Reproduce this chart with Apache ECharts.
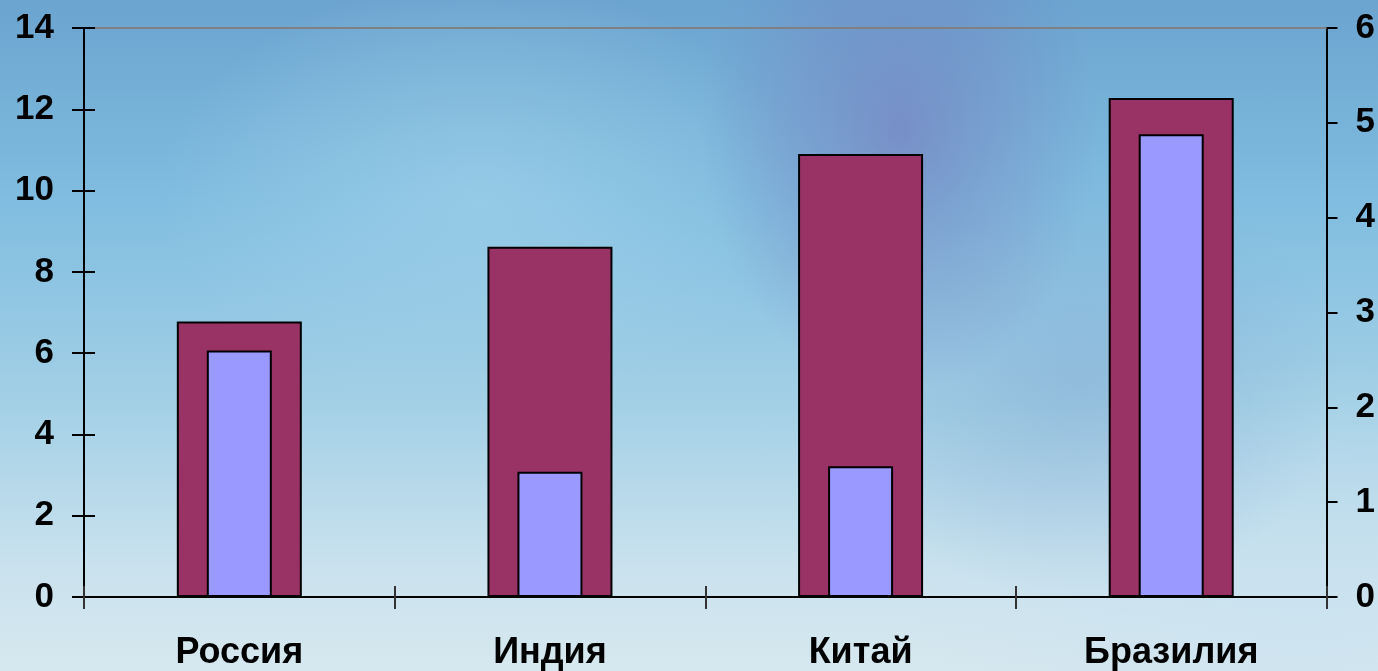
<!DOCTYPE html>
<html>
<head>
<meta charset="utf-8">
<style>
  html, body { margin: 0; padding: 0; }
  body {
    width: 1378px; height: 671px; overflow: hidden;
    background:
      radial-gradient(ellipse 200px 260px at 900px 130px, rgba(118,128,190,0.7), rgba(118,128,190,0) 100%),
      radial-gradient(ellipse 320px 220px at 480px 200px, rgba(165,212,235,0.6), rgba(165,212,235,0) 100%),
      radial-gradient(ellipse 260px 220px at 1080px 380px, rgba(130,170,210,0.5), rgba(130,170,210,0) 100%),
      radial-gradient(ellipse 380px 260px at 1300px 620px, rgba(200,225,240,0.55), rgba(200,225,240,0) 100%),
      linear-gradient(to bottom, #6ba4cf 0%, #80bde0 30%, #a3d0e6 60%, #cae2ee 85%, #d6e8ef 100%);
  }
  #chart { width: 1378px; height: 671px; }
</style>
<script src="https://cdn.jsdelivr.net/npm/echarts@6/dist/echarts.min.js"></script>
</head>
<body>
<div id="chart"></div>
<script>
const categories = ["Россия", "Индия", "Китай", "Бразилия"];
const leftValues = [6.78, 8.62, 10.9, 12.28];
const rightValues = [2.6, 1.32, 1.38, 4.88];
const leftTicks = { min: 0, max: 14, interval: 2 };
const rightTicks = { min: 0, max: 6, interval: 1 };

const chart = echarts.init(document.getElementById("chart"), null, { renderer: "canvas" });

const labelFont = {
  fontFamily: "Liberation Sans, Arial, sans-serif",
  fontWeight: "bold",
  color: "#000",
};

chart.setOption({
  backgroundColor: "transparent",
  animation: false,
  grid: { left: 84, right: 51, top: 28, bottom: 73 },
  xAxis: [
    {
      type: "category",
      data: categories,
      position: "bottom",
      axisLine: { onZero: false, lineStyle: { color: "#000", width: 2 } },
      axisTick: { show: true, length: 12, lineStyle: { color: "#333", width: 2 } },
      axisLabel: { ...labelFont, fontSize: 36, margin: 38 },
    },
    {
      type: "category",
      data: categories,
      position: "top",
      axisLine: { onZero: false, lineStyle: { color: "#808080", width: 2 } },
      axisTick: { show: false },
      axisLabel: { show: false },
    },
    {
      type: "category",
      data: categories,
      position: "bottom",
      axisLine: { show: false, onZero: false },
      axisTick: { show: true, inside: true, length: 11, lineStyle: { color: "#333", width: 2 } },
      axisLabel: { show: false },
    },
  ],
  yAxis: [
    {
      type: "value",
      position: "left",
      ...leftTicks,
      axisLine: { show: true, onZero: false, lineStyle: { color: "#000", width: 2 } },
      axisTick: { show: true, length: 12, lineStyle: { color: "#000", width: 2 } },
      axisLabel: { ...labelFont, fontSize: 35, margin: 30 },
      splitLine: { show: false },
    },
    {
      type: "value",
      position: "right",
      ...rightTicks,
      axisLine: { show: true, onZero: false, lineStyle: { color: "#000", width: 2 } },
      axisTick: { show: true, length: 11, lineStyle: { color: "#000", width: 2 } },
      axisLabel: { ...labelFont, fontSize: 35, margin: 29 },
      splitLine: { show: false },
    },
    {
      type: "value",
      position: "left",
      ...leftTicks,
      axisLine: { show: false, onZero: false },
      axisTick: { show: true, inside: true, length: 11, lineStyle: { color: "#000", width: 2 } },
      axisLabel: { show: false },
      splitLine: { show: false },
    },
  ],
  series: [
    {
      name: "left",
      type: "bar",
      xAxisIndex: 0,
      yAxisIndex: 0,
      data: leftValues,
      barWidth: 125,
      itemStyle: { color: "#993366", borderColor: "#000", borderWidth: 2 },
    },
    {
      name: "right",
      type: "bar",
      xAxisIndex: 1,
      yAxisIndex: 1,
      data: rightValues,
      barWidth: 65,
      z: 3,
      itemStyle: { color: "#9999ff", borderColor: "#000", borderWidth: 2 },
    },
  ],
});
</script>
</body>
</html>
